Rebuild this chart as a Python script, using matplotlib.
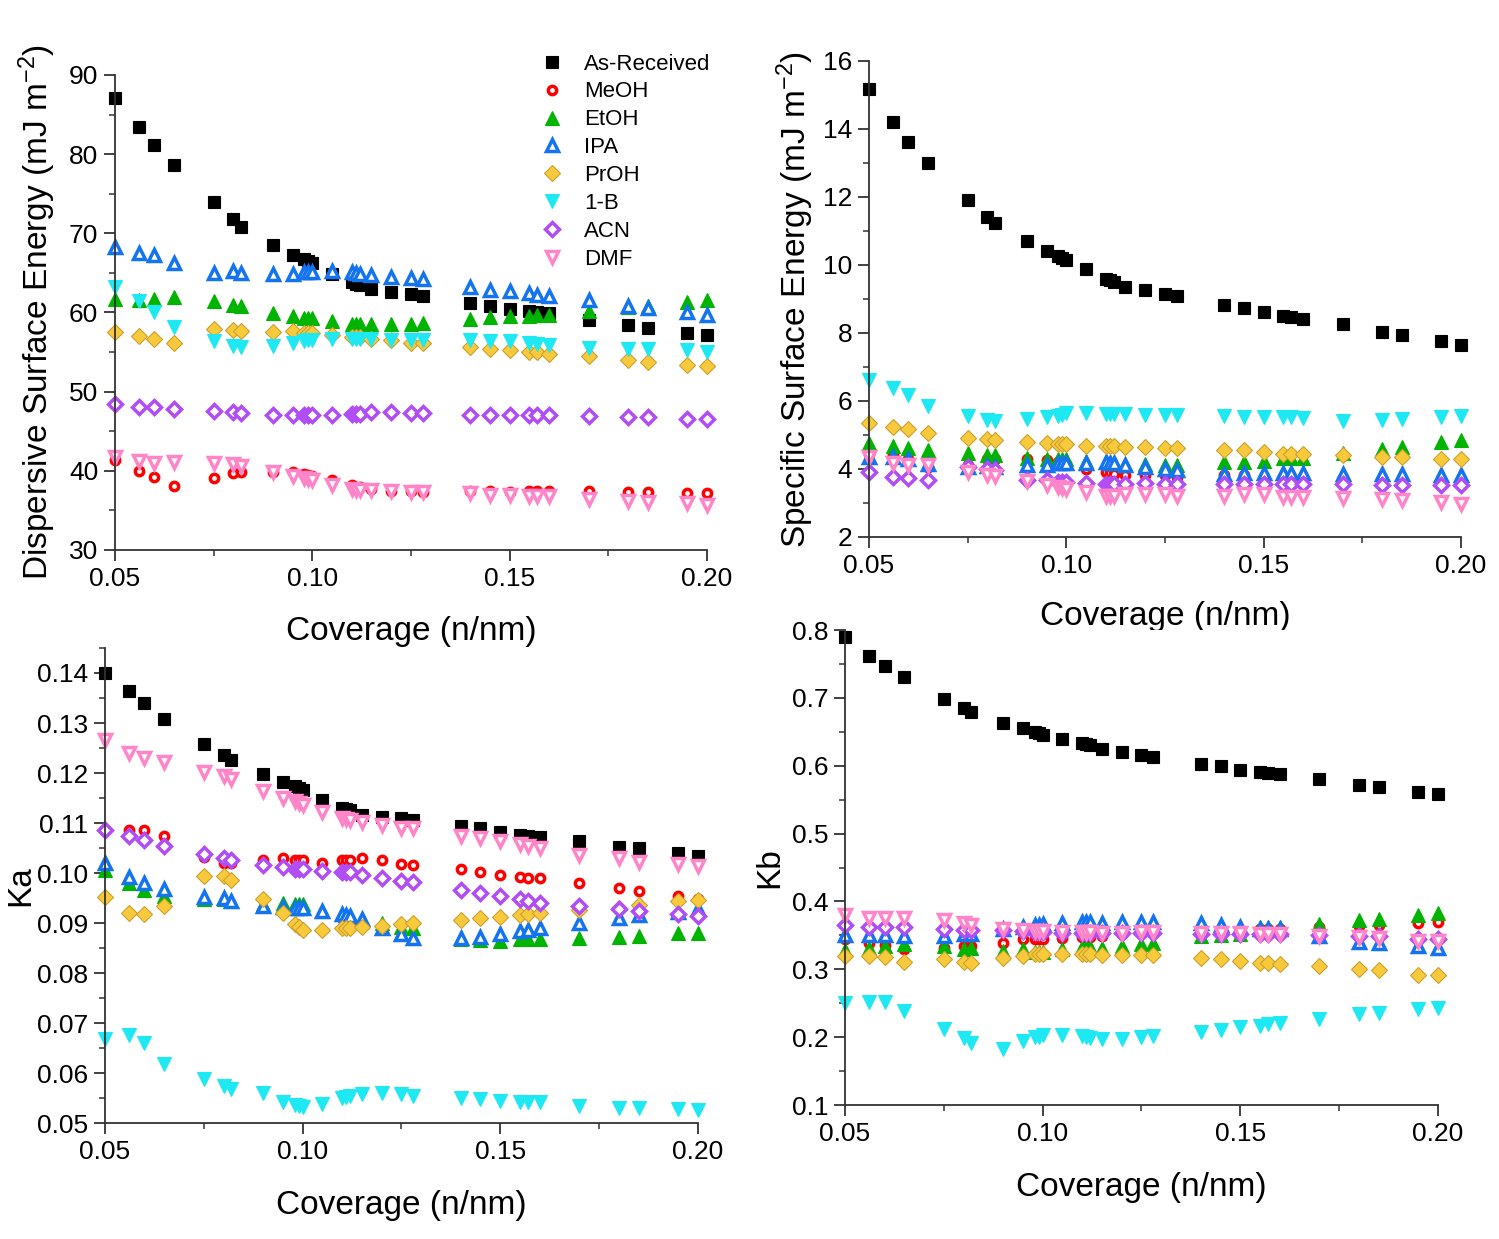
import matplotlib
matplotlib.use("Agg")
import matplotlib.pyplot as plt
from matplotlib.ticker import MultipleLocator, FormatStrFormatter

plt.rcParams['font.family'] = ['Liberation Sans', 'DejaVu Sans']
plt.rcParams['mathtext.default'] = 'regular'

# coverage (n/nm), shared by all series
coverage = [0.050, 0.056, 0.060, 0.065, 0.075, 0.080, 0.082, 0.090, 0.095, 0.098, 0.099,
            0.100, 0.105, 0.110, 0.111, 0.112, 0.115, 0.120, 0.125, 0.128, 0.140, 0.145,
            0.150, 0.155, 0.157, 0.160, 0.170, 0.180, 0.185, 0.195, 0.200]

labels = ['As-Received', 'MeOH', 'EtOH', 'IPA', 'PrOH', '1-B', 'ACN', 'DMF']

# dispersive surface energy (mJ m-2)
disp_ar = [87.1, 83.4, 81.2, 78.6, 73.9, 71.8, 70.8, 68.5, 67.3, 66.7, 66.5, 66.2, 64.9, 63.8, 63.6, 63.5,
           63.0, 62.6, 62.3, 62.1, 61.2, 60.8, 60.4, 60.2, 60.0, 59.9, 59.0, 58.4, 58.1, 57.4, 57.1]
disp_meoh = [41.4, 40.0, 39.2, 38.1, 39.1, 39.7, 39.8, 39.9, 39.9, 39.6, 39.5, 39.4, 38.8, 38.2, 38.0, 38.0,
             37.7, 37.5, 37.4, 37.3, 37.5, 37.4, 37.3, 37.4, 37.4, 37.4, 37.4, 37.3, 37.3, 37.2, 37.2]
disp_etoh = [61.7, 61.6, 61.7, 61.9, 61.5, 61.0, 60.8, 59.9, 59.5, 59.3, 59.3, 59.3, 58.9, 58.6, 58.6, 58.6,
             58.5, 58.5, 58.6, 58.7, 59.2, 59.4, 59.5, 59.6, 59.7, 59.7, 60.2, 60.7, 60.8, 61.3, 61.6]
disp_ipa = [68.3, 67.5, 67.2, 66.3, 65.0, 65.2, 65.0, 64.9, 64.9, 65.1, 65.1, 65.1, 65.3, 65.1, 65.0, 64.9,
            64.7, 64.5, 64.3, 64.2, 63.2, 62.9, 62.7, 62.4, 62.2, 62.1, 61.6, 60.8, 60.6, 60.0, 59.7]
disp_proh = [57.5, 57.0, 56.6, 56.1, 57.9, 57.8, 57.7, 57.5, 57.6, 57.4, 57.4, 57.4, 57.1, 56.9, 56.9, 56.9,
             56.7, 56.5, 56.2, 56.2, 55.6, 55.4, 55.3, 55.0, 55.0, 54.8, 54.5, 54.0, 53.8, 53.4, 53.2]
disp_1b = [63.2, 61.4, 60.1, 58.2, 56.4, 55.8, 55.6, 55.8, 56.1, 56.4, 56.5, 56.5, 56.6, 56.6, 56.6, 56.6,
           56.6, 56.5, 56.5, 56.5, 56.5, 56.4, 56.4, 56.1, 56.0, 55.9, 55.5, 55.4, 55.4, 55.3, 55.0]
disp_acn = [48.4, 48.1, 48.0, 47.8, 47.5, 47.4, 47.3, 47.1, 47.1, 47.1, 47.1, 47.1, 47.1, 47.2, 47.2, 47.2,
            47.4, 47.4, 47.3, 47.3, 47.1, 47.1, 47.1, 47.0, 47.0, 47.0, 46.9, 46.8, 46.8, 46.6, 46.6]
disp_dmf = [41.8, 41.2, 41.0, 41.1, 41.0, 40.8, 40.6, 39.8, 39.3, 39.1, 39.0, 38.9, 38.2, 37.7, 37.6, 37.6,
            37.6, 37.4, 37.3, 37.3, 37.2, 37.0, 37.0, 36.8, 36.8, 36.8, 36.5, 36.2, 36.1, 35.9, 35.7]

# specific surface energy (mJ m-2)
spec_ar = [15.19, 14.21, 13.63, 13.0, 11.9, 11.41, 11.22, 10.7, 10.41, 10.26, 10.2, 10.15, 9.87, 9.6, 9.55, 9.5,
           9.34, 9.27, 9.16, 9.09, 8.83, 8.72, 8.62, 8.5, 8.47, 8.4, 8.26, 8.04, 7.94, 7.75, 7.65]
spec_meoh = [4.45, 4.4, 4.28, 4.06, 4.11, 4.28, 4.3, 4.3, 4.25, 4.2, 4.18, 4.16, 4.01, 3.91, 3.88, 3.86,
             3.81, 3.81, 3.81, 3.76, 3.81, 3.81, 3.76, 3.76, 3.76, 3.76, 3.72, 3.69, 3.69, 3.66, 3.66]
spec_etoh = [4.75, 4.67, 4.63, 4.55, 4.47, 4.4, 4.4, 4.33, 4.3, 4.28, 4.28, 4.28, 4.24, 4.2, 4.19, 4.18,
             4.16, 4.16, 4.11, 4.13, 4.2, 4.2, 4.24, 4.33, 4.33, 4.33, 4.47, 4.6, 4.65, 4.8, 4.86]
spec_ipa = [4.35, 4.35, 4.3, 4.16, 4.06, 4.08, 4.06, 4.11, 4.13, 4.18, 4.18, 4.18, 4.18, 4.2, 4.19, 4.18,
            4.11, 4.06, 4.01, 3.98, 3.86, 3.88, 3.88, 3.88, 3.88, 3.88, 3.86, 3.86, 3.86, 3.81, 3.81]
spec_proh = [5.36, 5.24, 5.19, 5.06, 4.92, 4.89, 4.86, 4.8, 4.75, 4.73, 4.73, 4.73, 4.67, 4.67, 4.67, 4.67,
             4.65, 4.65, 4.63, 4.63, 4.55, 4.55, 4.5, 4.45, 4.45, 4.45, 4.4, 4.35, 4.35, 4.3, 4.3]
spec_1b = [6.62, 6.37, 6.18, 5.85, 5.56, 5.44, 5.41, 5.46, 5.54, 5.56, 5.59, 5.64, 5.66, 5.62, 5.62, 5.62,
           5.62, 5.59, 5.59, 5.59, 5.56, 5.54, 5.54, 5.54, 5.52, 5.5, 5.42, 5.44, 5.46, 5.52, 5.56]
spec_acn = [3.91, 3.76, 3.74, 3.69, 4.06, 4.01, 3.96, 3.69, 3.67, 3.63, 3.62, 3.62, 3.59, 3.57, 3.57, 3.57,
            3.57, 3.59, 3.57, 3.57, 3.55, 3.55, 3.55, 3.55, 3.55, 3.55, 3.55, 3.52, 3.52, 3.52, 3.52]
spec_dmf = [4.35, 4.18, 4.11, 4.11, 3.91, 3.81, 3.78, 3.64, 3.52, 3.47, 3.43, 3.4, 3.32, 3.22, 3.22, 3.22,
            3.25, 3.25, 3.25, 3.22, 3.22, 3.25, 3.25, 3.19, 3.19, 3.19, 3.15, 3.12, 3.1, 3.03, 2.98]

# Ka
ka_ar = [0.1400, 0.1363, 0.1340, 0.1309, 0.1259, 0.1236, 0.1226, 0.1199, 0.1183, 0.1175, 0.1170, 0.1166,
         0.1147, 0.1131, 0.1129, 0.1127, 0.1117, 0.1113, 0.1110, 0.1106, 0.1095, 0.1090, 0.1083, 0.1076,
         0.1075, 0.1073, 0.1064, 0.1053, 0.1050, 0.1040, 0.1035]
ka_meoh = [0.1086, 0.1086, 0.1086, 0.1075, 0.1033, 0.1020, 0.1020, 0.1026, 0.1030, 0.1026, 0.1026, 0.1026,
           0.1020, 0.1026, 0.1026, 0.1026, 0.1030, 0.1026, 0.1018, 0.1017, 0.1009, 0.1002, 0.0997, 0.0993,
           0.0991, 0.0990, 0.0980, 0.0971, 0.0965, 0.0954, 0.0949]
ka_etoh = [0.1007, 0.0980, 0.0967, 0.0954, 0.0948, 0.0948, 0.0944, 0.0938, 0.0941, 0.0938, 0.0938, 0.0938,
           0.0924, 0.0918, 0.0916, 0.0914, 0.0908, 0.0901, 0.0893, 0.0890, 0.0869, 0.0867, 0.0865, 0.0869,
           0.0869, 0.0869, 0.0871, 0.0873, 0.0875, 0.0880, 0.0880]
ka_ipa = [0.1020, 0.0993, 0.0980, 0.0969, 0.0952, 0.0950, 0.0944, 0.0934, 0.0932, 0.0930, 0.0930, 0.0930,
          0.0924, 0.0918, 0.0916, 0.0914, 0.0908, 0.0891, 0.0878, 0.0871, 0.0871, 0.0873, 0.0878, 0.0884,
          0.0887, 0.0890, 0.0900, 0.0911, 0.0917, 0.0923, 0.0929]
ka_proh = [0.0952, 0.0921, 0.0918, 0.0934, 0.0995, 0.0995, 0.0987, 0.0949, 0.0920, 0.0898, 0.0892, 0.0886,
           0.0886, 0.0891, 0.0891, 0.0891, 0.0893, 0.0895, 0.0899, 0.0901, 0.0907, 0.0910, 0.0913, 0.0917,
           0.0918, 0.0920, 0.0926, 0.0930, 0.0936, 0.0944, 0.0946]
ka_1b = [0.0669, 0.0677, 0.0660, 0.0618, 0.0589, 0.0575, 0.0569, 0.0560, 0.0543, 0.0537, 0.0535, 0.0533,
         0.0538, 0.0551, 0.0553, 0.0555, 0.0558, 0.0561, 0.0558, 0.0555, 0.0551, 0.0549, 0.0545, 0.0542,
         0.0542, 0.0542, 0.0535, 0.0531, 0.0530, 0.0529, 0.0527]
ka_acn = [0.1086, 0.1075, 0.1066, 0.1055, 0.1038, 0.1030, 0.1026, 0.1017, 0.1013, 0.1009, 0.1009, 0.1009,
          0.1005, 0.1002, 0.1002, 0.1002, 0.0997, 0.0991, 0.0985, 0.0982, 0.0967, 0.0961, 0.0954, 0.0948,
          0.0945, 0.0940, 0.0935, 0.0928, 0.0925, 0.0918, 0.0915]
ka_dmf = [0.1267, 0.1240, 0.1230, 0.1223, 0.1203, 0.1194, 0.1189, 0.1164, 0.1151, 0.1144, 0.1140, 0.1136,
          0.1123, 0.1110, 0.1109, 0.1107, 0.1103, 0.1097, 0.1091, 0.1090, 0.1075, 0.1071, 0.1064, 0.1058,
          0.1055, 0.1051, 0.1036, 0.1031, 0.1023, 0.1018, 0.1015]

# Kb
kb_ar = [0.789, 0.762, 0.747, 0.731, 0.699, 0.685, 0.679, 0.663, 0.655, 0.650, 0.648, 0.646, 0.639, 0.634,
         0.632, 0.630, 0.625, 0.621, 0.616, 0.613, 0.603, 0.600, 0.594, 0.591, 0.590, 0.588, 0.580, 0.572,
         0.568, 0.562, 0.559]
kb_meoh = [0.345, 0.339, 0.336, 0.330, 0.332, 0.335, 0.334, 0.339, 0.344, 0.345, 0.345, 0.345, 0.346, 0.347,
           0.347, 0.347, 0.349, 0.352, 0.353, 0.353, 0.354, 0.354, 0.355, 0.359, 0.359, 0.359, 0.362, 0.364,
           0.365, 0.368, 0.370]
kb_etoh = [0.328, 0.331, 0.335, 0.338, 0.335, 0.330, 0.331, 0.327, 0.330, 0.326, 0.326, 0.326, 0.330, 0.333,
           0.333, 0.333, 0.332, 0.334, 0.338, 0.339, 0.349, 0.350, 0.352, 0.362, 0.362, 0.362, 0.367, 0.372,
           0.374, 0.380, 0.383]
kb_ipa = [0.350, 0.350, 0.350, 0.349, 0.349, 0.352, 0.352, 0.360, 0.363, 0.365, 0.366, 0.367, 0.369, 0.370,
          0.370, 0.370, 0.369, 0.370, 0.370, 0.370, 0.368, 0.365, 0.363, 0.359, 0.359, 0.359, 0.349, 0.340,
          0.339, 0.334, 0.331]
kb_proh = [0.320, 0.320, 0.318, 0.311, 0.315, 0.311, 0.310, 0.316, 0.320, 0.323, 0.323, 0.323, 0.323, 0.322,
           0.322, 0.322, 0.321, 0.321, 0.321, 0.321, 0.317, 0.315, 0.313, 0.310, 0.310, 0.308, 0.305, 0.300,
           0.299, 0.292, 0.291]
kb_1b = [0.250, 0.252, 0.252, 0.238, 0.212, 0.199, 0.192, 0.183, 0.194, 0.200, 0.201, 0.203, 0.203, 0.202,
         0.200, 0.199, 0.198, 0.197, 0.200, 0.202, 0.208, 0.211, 0.215, 0.217, 0.219, 0.221, 0.227, 0.234,
         0.236, 0.241, 0.243]
kb_acn = [0.365, 0.363, 0.362, 0.362, 0.359, 0.358, 0.358, 0.358, 0.357, 0.355, 0.355, 0.355, 0.354, 0.353,
          0.353, 0.353, 0.353, 0.353, 0.353, 0.353, 0.352, 0.352, 0.352, 0.352, 0.352, 0.352, 0.350, 0.349,
          0.349, 0.345, 0.344]
kb_dmf = [0.380, 0.376, 0.375, 0.375, 0.373, 0.368, 0.365, 0.360, 0.358, 0.357, 0.357, 0.357, 0.355, 0.355,
          0.355, 0.355, 0.354, 0.354, 0.355, 0.355, 0.354, 0.353, 0.353, 0.352, 0.352, 0.352, 0.349, 0.347,
          0.346, 0.342, 0.342]

# marker styles: (marker, colour, filled)
styles = [('s', '#000000', True),
          ('o', '#ff0000', False),
          ('^', '#00b400', True),
          ('^', '#1473ee', False),
          ('D', '#f9c93c', True),
          ('v', '#1ee8f2', True),
          ('D', '#b04df5', False),
          ('v', '#ff85c8', False)]
sizes = {'s': 9, 'o': 7, '^': 10, 'D': 8, 'v': 10}


def draw(ax, series):
    for (m, c, filled), ys, lab in zip(styles, series, labels):
        if filled:
            edge = '#c9a030' if m == 'D' else c
            ax.plot(coverage, ys, linestyle='none', marker=m, ms=sizes[m], mfc=c, mec=edge,
                    mew=0.8, label=lab, clip_on=False)
        else:
            ax.plot(coverage, ys, linestyle='none', marker=m, ms=sizes[m] - 1, mfc='white', mec=c,
                    mew=2.5, label=lab, clip_on=False)


def style_axes(ax, ylim, ymajor, fmt):
    ax.set_xlim(0.05, 0.20)
    ax.set_ylim(*ylim)
    ax.xaxis.set_major_locator(MultipleLocator(0.05))
    ax.xaxis.set_minor_locator(MultipleLocator(0.025))
    ax.xaxis.set_major_formatter(FormatStrFormatter('%.2f'))
    ax.yaxis.set_major_locator(MultipleLocator(ymajor))
    ax.yaxis.set_minor_locator(MultipleLocator(ymajor / 2))
    ax.yaxis.set_major_formatter(FormatStrFormatter(fmt))
    for s in ['top', 'right']:
        ax.spines[s].set_visible(False)
    for s in ['left', 'bottom']:
        ax.spines[s].set_linewidth(1.3)
        ax.spines[s].set_color('#333333')
    ax.tick_params(which='major', direction='out', length=8, width=1.3, labelsize=19, color='#333333', pad=4)
    ax.tick_params(which='minor', direction='out', length=4, width=1.1, color='#333333')
    ax.set_xlabel('Coverage (n/nm)', fontsize=24)


fig = plt.figure(figsize=(14.99, 12.39), dpi=100)

ax1 = fig.add_axes([0.0767, 0.5561, 0.3949, 0.3834])
draw(ax1, [disp_ar, disp_meoh, disp_etoh, disp_ipa, disp_proh, disp_1b, disp_acn, disp_dmf])
style_axes(ax1, (30, 90), 10, '%d')
ax1.set_ylabel('Dispersive Surface Energy (mJ m$^{-2}$)', fontsize=24)
ax1.yaxis.set_label_coords(-0.096, 0.5)
ax1.xaxis.set_label_coords(0.5, -0.14)
ax1.legend(frameon=False, fontsize=16, loc='upper left', bbox_to_anchor=(0.716, 1.045),
           labelspacing=0.31, handletextpad=0.85, handlelength=1.2, borderaxespad=0, borderpad=0)

ax2 = fig.add_axes([0.5797, 0.5666, 0.3949, 0.3842])
draw(ax2, [spec_ar, spec_meoh, spec_etoh, spec_ipa, spec_proh, spec_1b, spec_acn, spec_dmf])
style_axes(ax2, (2, 16), 2, '%d')
ax2.set_ylabel('Specific Surface Energy (mJ m$^{-2}$)', fontsize=24)
ax2.yaxis.set_label_coords(-0.09, 0.5)
ax2.xaxis.set_label_coords(0.5, -0.135)

ax3 = fig.add_axes([0.0700, 0.0936, 0.3956, 0.3834])
draw(ax3, [ka_ar, ka_meoh, ka_etoh, ka_ipa, ka_proh, ka_1b, ka_acn, ka_dmf])
style_axes(ax3, (0.05, 0.145), 0.01, '%.2f')
ax3.set_ylabel('Ka', fontsize=24)
ax3.yaxis.set_label_coords(-0.115, 0.5)
ax3.xaxis.set_label_coords(0.5, -0.14)

ax4 = fig.add_axes([0.5637, 0.1081, 0.3956, 0.3834])
draw(ax4, [kb_ar, kb_meoh, kb_etoh, kb_ipa, kb_proh, kb_1b, kb_acn, kb_dmf])
style_axes(ax4, (0.1, 0.8), 0.1, '%.1f')
ax4.set_ylabel('Kb', fontsize=24)
ax4.yaxis.set_label_coords(-0.1, 0.5)
ax4.xaxis.set_label_coords(0.5, -0.14)

fig.savefig('out.png', dpi=100)
